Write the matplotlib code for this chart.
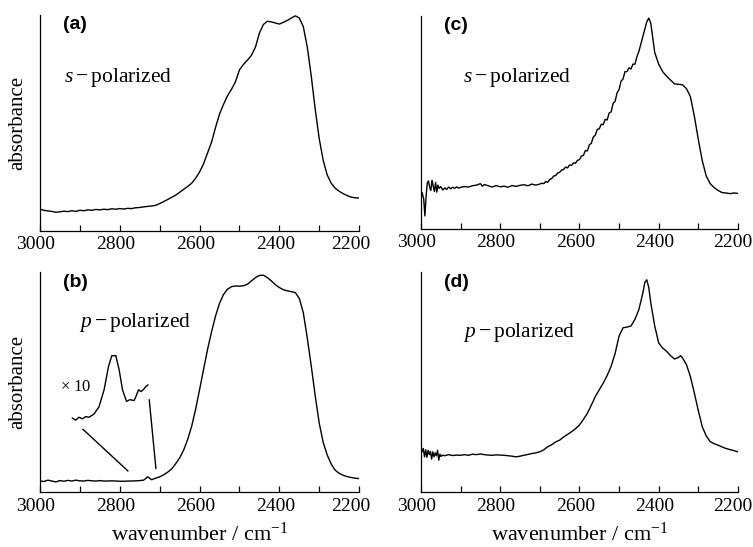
import matplotlib.pyplot as plt
from matplotlib.ticker import MultipleLocator
from matplotlib.transforms import ScaledTranslation

plt.rcParams['font.family'] = ['Liberation Serif', 'DejaVu Serif']
plt.rcParams['mathtext.fontset'] = 'custom'
plt.rcParams['mathtext.rm'] = 'Liberation Serif'
plt.rcParams['mathtext.it'] = 'Liberation Serif:italic'

# (a) s-polarized
wn_a = [3000, 2990, 2980, 2970, 2960, 2950, 2940, 2930, 2920, 2910, 2900, 2890, 2880, 2870,
        2860, 2850, 2840, 2830, 2820, 2810, 2800, 2790, 2780, 2770, 2760, 2750, 2740, 2730,
        2720, 2710, 2700, 2690, 2680, 2670, 2660, 2650, 2640, 2630, 2620, 2610, 2600, 2590,
        2580, 2570, 2560, 2550, 2540, 2530, 2520, 2510, 2500, 2490, 2480, 2470, 2460, 2450,
        2440, 2430, 2420, 2410, 2400, 2390, 2380, 2370, 2360, 2350, 2340, 2330, 2320, 2310,
        2300, 2290, 2280, 2270, 2260, 2250, 2240, 2230, 2220, 2210, 2200]
abs_a = [.100, .095, .092, .090, .086, .088, .091, .089, .093, .090, .095, .093, .097, .095,
         .099, .097, .100, .098, .102, .100, .103, .101, .104, .103, .107, .108, .111, .113,
         .115, .118, .126, .135, .145, .155, .165, .178, .192, .205, .220, .243, .272, .310,
         .360, .410, .478, .540, .585, .625, .655, .690, .745, .770, .790, .812, .850, .915,
         .955, .970, .967, .962, .957, .965, .974, .985, .995, .985, .945, .850, .715, .560,
         .425, .325, .258, .220, .197, .183, .172, .163, .156, .153, .152]

# (b) p-polarized
wn_b = wn_a
abs_b = [.050, .048, .054, .050, .046, .052, .049, .053, .050, .054, .051, .050, .053, .051,
         .050, .052, .050, .050, .051, .050, .049, .049, .050, .050, .051, .052, .054, .069,
         .056, .063, .069, .078, .090, .105, .128, .155, .190, .238, .297, .375, .465, .557,
         .648, .728, .800, .858, .898, .922, .934, .937, .936, .938, .945, .960, .975, .985,
         .986, .975, .960, .943, .930, .920, .915, .911, .907, .880, .815, .700, .572, .435,
         .312, .225, .168, .127, .099, .085, .076, .070, .066, .063, .061]

# (b) inset, x10
wn_ins = [2918.6, 2910.3, 2902.0, 2893.5, 2885.2, 2876.9, 2864.3, 2851.8, 2839.2, 2828.1,
          2819.8, 2809.8, 2801.5, 2793.0, 2782.9, 2774.6, 2763.8, 2759.5, 2752.8, 2747.0,
          2741.2, 2734.4, 2729.4]
abs_ins = [.336, .327, .340, .333, .343, .340, .355, .388, .465, .571,
           .620, .620, .556, .465, .412, .420, .416, .434, .465, .457,
           .465, .480, .487]

# (c) s-polarized
wn_c = [3000, 2997, 2993, 2990, 2987, 2984, 2981, 2978, 2975, 2972, 2969, 2966, 2963, 2960,
        2957, 2954, 2950, 2945, 2940, 2935, 2930, 2925, 2920, 2915, 2910, 2905, 2900, 2890,
        2880, 2870, 2860, 2850, 2845, 2840, 2830, 2820, 2810, 2800, 2790, 2780, 2770, 2760,
        2750, 2740, 2730, 2720, 2710,
        2700, 2695, 2690, 2685, 2680, 2675, 2670, 2665, 2660, 2655, 2650, 2645, 2640, 2635,
        2630, 2625, 2620, 2615, 2610, 2605, 2600, 2595, 2590, 2585, 2580, 2575, 2570, 2565,
        2560, 2555, 2550, 2545, 2540, 2535, 2530, 2525, 2520, 2515, 2510, 2505, 2500, 2495,
        2490, 2485, 2480, 2475, 2470, 2465, 2460, 2455, 2450,
        2440, 2430, 2425, 2420, 2415, 2410, 2400, 2390, 2380, 2370, 2360,
        2350, 2340, 2330, 2320, 2310, 2300, 2290, 2280, 2270, 2260, 2250, 2240, 2230, 2220,
        2210, 2200]
abs_c = [.154, .170, .140, .060, .150, .215, .225, .195, .180, .228, .200, .175, .218, .172,
         .205, .190, .198, .182, .192, .185, .196, .188, .195, .190, .197, .191, .195, .198,
         .196, .202, .205, .212, .200, .208, .202, .196, .203, .197, .200, .195, .203, .199,
         .204, .207, .202, .210, .205,
         .210, .214, .212, .222, .218, .232, .236, .248, .250, .262, .265, .276, .278, .290,
         .286, .300, .298, .310, .308, .322, .325, .342, .345, .368, .366, .395, .402, .432,
         .440, .468, .470, .492, .490, .515, .512, .545, .550, .590, .600, .640, .655, .695,
         .705, .740, .740, .758, .752, .775, .775, .810, .835,
         .905, .975, .992, .968, .900, .830, .775, .740, .718, .700, .682,
         .680, .678, .660, .622, .530, .420, .320, .248, .212, .193, .180, .170, .168, .165,
         .168, .166]

# (d) p-polarized
wn_d = [3000, 2997, 2994, 2991, 2988, 2985, 2982, 2979, 2976, 2973, 2970, 2967, 2964, 2961,
        2958, 2955, 2952, 2949, 2945, 2940, 2930, 2920, 2910, 2900, 2890, 2880, 2870, 2860,
        2850, 2840, 2830, 2820, 2810, 2800, 2790, 2780, 2770, 2760, 2750, 2740, 2730, 2720,
        2710, 2700, 2690, 2680, 2670, 2660, 2650, 2640, 2630, 2620, 2610, 2600, 2590, 2580,
        2570, 2560, 2550, 2540, 2530, 2520, 2510, 2500, 2490, 2480, 2470, 2460, 2450, 2440,
        2435, 2430, 2425, 2420, 2410, 2400, 2390, 2380, 2370, 2360, 2350, 2345, 2340, 2330,
        2320, 2310, 2300, 2290, 2280, 2270, 2260, 2250, 2240, 2230, 2220, 2210, 2200]
abs_d = [.206, .183, .198, .160, .192, .158, .190, .170, .185, .150, .183, .160, .178, .165,
         .190, .145, .172, .162, .168, .165, .170, .166, .168, .167, .170, .167, .172, .170,
         .173, .170, .168, .167, .169, .168, .167, .165, .163, .160, .163, .167, .171, .175,
         .178, .183, .192, .206, .215, .228, .236, .250, .262, .274, .288, .305, .330, .358,
         .395, .434, .465, .495, .530, .572, .630, .709, .747, .750, .755, .785, .830, .905,
         .953, .965, .930, .861, .755, .678, .655, .640, .620, .605, .612, .620, .610, .580,
         .525, .450, .370, .297, .255, .229, .220, .213, .205, .198, .193, .188, .183]

xticks = [3000, 2800, 2600, 2400, 2200]

fig = plt.figure(figsize=(7.53, 5.47), dpi=100)
ax_a = fig.add_axes([0.053, 0.578, 0.424, 0.395])
ax_b = fig.add_axes([0.053, 0.1005, 0.424, 0.402])
ax_c = fig.add_axes([0.559, 0.582, 0.421, 0.388])
ax_d = fig.add_axes([0.559, 0.1005, 0.421, 0.402])

panels = [(ax_a, wn_a, abs_a, '(a)', 's', (0.075, 0.71)),
          (ax_b, wn_b, abs_b, '(b)', 'p', (0.123, 0.77)),
          (ax_c, wn_c, abs_c, '(c)', 's', (0.132, 0.71)),
          (ax_d, wn_d, abs_d, '(d)', 'p', (0.132, 0.727))]

for ax, wn, ab, tag, pol, pos in panels:
    ax.plot(wn, ab, color='black', lw=1.0)
    ax.set_xlim(3000, 2200)
    ax.set_ylim(0, 1)
    ax.spines['top'].set_visible(False)
    ax.spines['right'].set_visible(False)
    ax.spines['left'].set_linewidth(0.9)
    ax.spines['bottom'].set_linewidth(0.9)
    ax.set_yticks([])
    ax.set_xticks(xticks)
    ax.xaxis.set_minor_locator(MultipleLocator(100))
    ax.tick_params(axis='x', which='both', direction='in', length=4.5, width=0.9,
                   labelsize=14, pad=4)
    ax.text(0.072, 0.955, tag, transform=ax.transAxes, fontsize=14, fontweight='bold',
            family='Liberation Sans', va='center', ha='left')
    ax.text(pos[0], pos[1], '$' + pol + '-$polarized', transform=ax.transAxes,
            fontsize=15.5, va='center', ha='left')

# tick labels sit a little left of their ticks
for ax in [ax_a, ax_b, ax_c, ax_d]:
    labels = ax.get_xticklabels()
    for i, lab in enumerate(labels):
        dx = -4
        if i == len(labels) - 1:
            dx = -8 if ax in (ax_a, ax_b) else -5
        lab.set_transform(lab.get_transform() + ScaledTranslation(dx / 100, 0, fig.dpi_scale_trans))

ax_a.set_ylabel('absorbance', fontsize=15, labelpad=9)
ax_b.set_ylabel('absorbance', fontsize=15, labelpad=9)
ax_b.set_xlabel('wavenumber / cm$^{-1}$', fontsize=16, labelpad=5.5)
ax_d.set_xlabel('wavenumber / cm$^{-1}$', fontsize=16, labelpad=5.5)

# x10 inset in (b)
ax_b.plot(wn_ins, abs_ins, color='black', lw=1.0)
ax_b.plot([2892, 2779.6], [0.285, 0.096], color='black', lw=1.0)
ax_b.plot([2726, 2709.3], [0.419, 0.107], color='black', lw=1.0)
ax_b.text(2950, 0.479, '$\\times$ 10', fontsize=12, va='center', ha='left')

fig.savefig('out.png', dpi=100)
